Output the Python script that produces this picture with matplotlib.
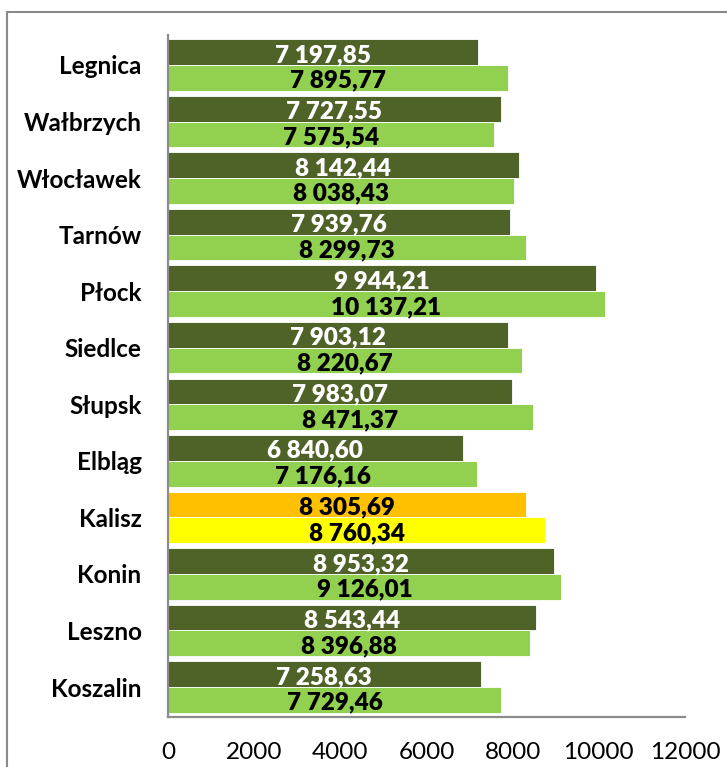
import matplotlib
matplotlib.use("Agg")
import matplotlib.pyplot as plt
from matplotlib.patches import Rectangle
import numpy as np

cities = ["Legnica", "Wałbrzych", "Włocławek", "Tarnów", "Płock", "Siedlce",
          "Słupsk", "Elbląg", "Kalisz", "Konin", "Leszno", "Koszalin"]
series_a = [7197.85, 7727.55, 8142.44, 7939.76, 9944.21, 7903.12,
            7983.07, 6840.60, 8305.69, 8953.32, 8543.44, 7258.63]
series_b = [7895.77, 7575.54, 8038.43, 8299.73, 10137.21, 8220.67,
            8471.37, 7176.16, 8760.34, 9126.01, 8396.88, 7729.46]
x_ticks = [0, 2000, 4000, 6000, 8000, 10000, 12000]
highlight = "Kalisz"

dark = "#4F6228"
light = "#92D050"
hl_dark = "#FFC000"
hl_light = "#FFFF00"

plt.rcParams['font.family'] = ['Lato', 'DejaVu Sans']

def fmt(v):
    s = f"{v:,.2f}"
    return s.replace(",", " ").replace(".", ",")

fig = plt.figure(figsize=(7.27, 7.67), dpi=100)
W, H = 727, 767
ax = fig.add_axes([168 / W, 1 - 717 / H, (685 - 168) / W, (717 - 35) / H])

n = len(cities)
y = np.arange(n)
h = 0.455
ca = [hl_dark if c == highlight else dark for c in cities]
cb = [hl_light if c == highlight else light for c in cities]
ax.barh(y - h / 2, series_a, height=h, color=ca, edgecolor="white", linewidth=0.6)
ax.barh(y + h / 2, series_b, height=h, color=cb, edgecolor="white", linewidth=0.6)

for i, c in enumerate(cities):
    ta = "black" if c == highlight else "white"
    ax.text(series_a[i] / 2, y[i] - h / 2 + 0.05, fmt(series_a[i]), ha="center", va="center",
            color=ta, fontsize=17.5, fontweight="heavy")
    ax.text(series_b[i] / 2, y[i] + h / 2 + 0.05, fmt(series_b[i]), ha="center", va="center",
            color="black", fontsize=17.5, fontweight="heavy")

ax.set_ylim(n - 0.5 + 0.03, -0.5 - 0.03)
ax.set_xlim(0, 12000)
ax.set_xticks(x_ticks)
ax.set_xticklabels([str(t) for t in x_ticks], fontsize=17.5)
ax.set_yticks(y)
ax.set_yticklabels(cities, fontsize=17.5, fontweight="bold")
ax.tick_params(axis="x", length=0, pad=18)
ax.tick_params(axis="y", length=0, pad=19)
for s in ["top", "right"]:
    ax.spines[s].set_visible(False)
for s in ["left", "bottom"]:
    ax.spines[s].set_color("#8C8C8C")
    ax.spines[s].set_linewidth(1.6)

fig.patches.append(Rectangle((7 / W, -0.1), 2, (H - 12) / H + 0.1, transform=fig.transFigure,
                             fill=False, edgecolor="#8A8A8A", linewidth=1.5))

fig.savefig("out.png", dpi=100)
